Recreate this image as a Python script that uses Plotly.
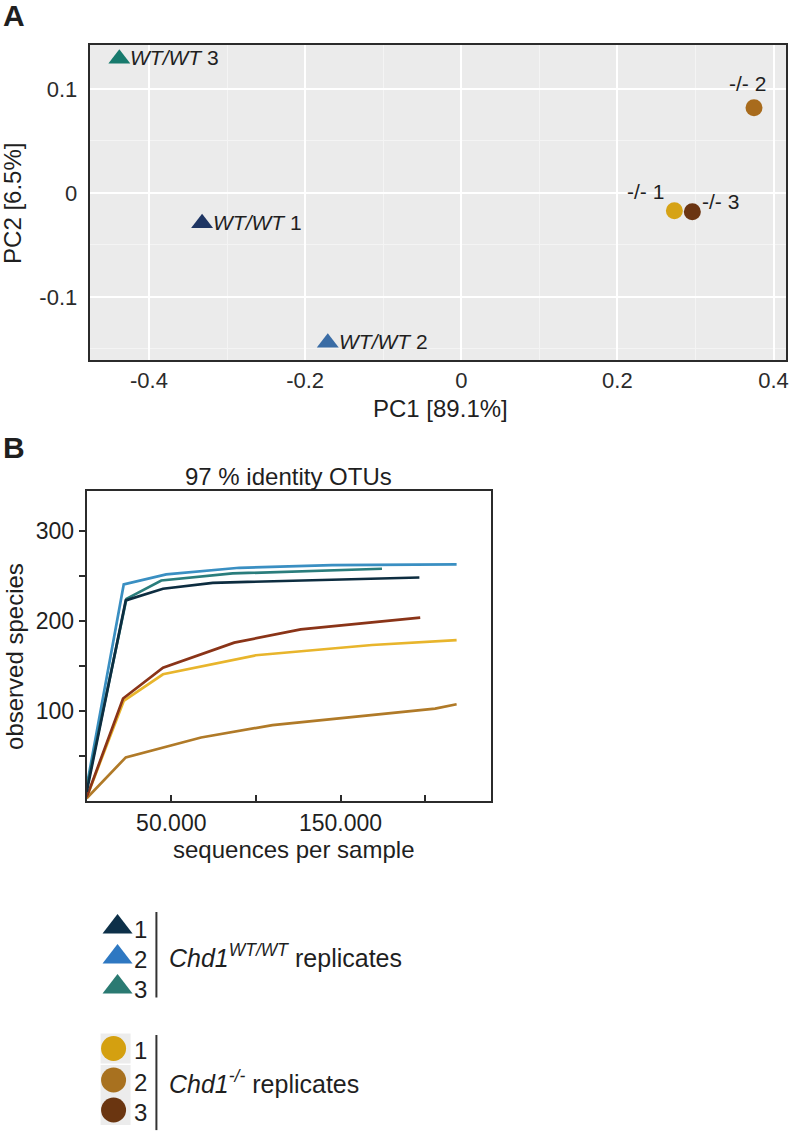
import plotly.graph_objects as go

W, H = 795, 1132
FONT = "Liberation Sans, Arial, sans-serif"
TXT = "#1f1f1f"

# ── Panel A: PCA ──────────────────────────────────────────────────────────────
pca_names = ["<i>WT/WT</i> 1", "<i>WT/WT</i> 2", "<i>WT/WT</i> 3", "-/- 1", "-/- 2", "-/- 3"]
pc1 = [-0.332, -0.171, -0.438, 0.273, 0.375, 0.296]
pc2 = [-0.029, -0.144, 0.129, -0.017, 0.082, -0.018]
pca_colors = ["#1e3563", "#3a6ca5", "#177a6d", "#d6a316", "#a86b1c", "#6b3512"]
pca_symbols = ["triangle-up"] * 3 + ["circle"] * 3
pca_sizes = [19] * 3 + [17] * 3
# label placement (anchor, xshift, yshift) in px
pca_label_pos = [("left", 9, 1), ("left", 9, 1), ("left", 9, 1),
                 ("right", -8, 19), ("center", -7, 24), ("left", 8, 10)]

# ── Panel B: rarefaction ─────────────────────────────────────────────────────
depth_wt1 = [0, 23100, 45100, 74500, 196600]
obs_wt1 = [10, 222.6, 235.5, 242.1, 248.0]
depth_wt2 = [0, 21900, 47000, 90200, 145000, 218600]
obs_wt2 = [16, 240.3, 251.4, 258.8, 261.7, 262.5]
depth_wt3 = [0, 23500, 44100, 86200, 174500]
obs_wt3 = [14, 224.4, 244.7, 252.5, 257.7]
depth_ko1 = [0, 21900, 45100, 100000, 168600, 218600]
obs_ko1 = [4, 111.0, 140.6, 161.7, 173.1, 178.6]
depth_ko2 = [0, 23100, 67600, 109800, 205900, 218600]
obs_ko2 = [3, 48.4, 70.5, 84.2, 102.6, 107.4]
depth_ko3 = [0, 21500, 45100, 87200, 126500, 197100]
obs_ko3 = [4, 113.7, 148.0, 175.7, 190.5, 203.4]

rare_series = [
    (depth_ko2, obs_ko2, "#b07a28"),
    (depth_ko1, obs_ko1, "#e8b52c"),
    (depth_ko3, obs_ko3, "#8a3418"),
    (depth_wt2, obs_wt2, "#3a8fc2"),
    (depth_wt3, obs_wt3, "#2a7d7c"),
    (depth_wt1, obs_wt1, "#0d2d40"),
]
x_tickvals = [50000, 150000]
x_ticktext = ["50.000", "150.000"]
x_minorvals = [100000, 200000]
y_tickvals = [100, 200, 300]
y_ticktext = ["100", "200", "300"]
y_minorvals = [50, 150, 250]

# ── Legend ────────────────────────────────────────────────────────────────────
leg_wt_labels = ["1", "2", "3"]
leg_wt_colors = ["#0d3049", "#2e78c2", "#2a7a72"]
leg_ko_labels = ["1", "2", "3"]
leg_ko_colors = ["#d4a010", "#a8711f", "#6a3510"]
leg_wt_rows = [0, 1, 2]
leg_ko_rows = [4.05, 5.1, 6.1]


def px(x):
    return x / W


def py(y):
    return 1 - y / H


fig = go.Figure()

# panel A markers
fig.add_trace(go.Scatter(
    x=pc1, y=pc2, mode="markers", xaxis="x", yaxis="y",
    marker=dict(color=pca_colors, symbol=pca_symbols, size=pca_sizes,
                opacity=1, line=dict(width=0)),
    showlegend=False, hoverinfo="skip",
))

# panel B lines
for dx, dy, col in rare_series:
    fig.add_trace(go.Scatter(
        x=dx, y=dy, mode="lines", xaxis="x2", yaxis="y2",
        line=dict(color=col, width=2.7), showlegend=False, hoverinfo="skip",
    ))

# legend swatches
leg_x = 116
fig.add_trace(go.Scatter(
    x=[leg_x] * 3, y=leg_ko_rows, mode="markers", xaxis="x3", yaxis="y3",
    marker=dict(symbol="square", size=30, color="#ececec", opacity=1),
    showlegend=False, hoverinfo="skip",
))
fig.add_trace(go.Scatter(
    x=[leg_x + 2] * 3, y=leg_wt_rows, mode="markers", xaxis="x3", yaxis="y3",
    marker=dict(symbol="triangle-up", size=26, color=leg_wt_colors, opacity=1),
    showlegend=False, hoverinfo="skip",
))
fig.add_trace(go.Scatter(
    x=[leg_x - 2] * 3, y=leg_ko_rows, mode="markers", xaxis="x3", yaxis="y3",
    marker=dict(symbol="circle", size=25, color=leg_ko_colors, opacity=1),
    showlegend=False, hoverinfo="skip",
))

ann = []
# PCA point labels
for name, x, y, (anc, xs, ys) in zip(pca_names, pc1, pc2, pca_label_pos):
    ann.append(dict(x=x, y=y, xref="x", yref="y", text=name, showarrow=False,
                    xanchor=anc, yanchor="middle", xshift=xs, yshift=ys,
                    font=dict(size=21, color=TXT)))

# axis titles / panel texts
ann += [
    dict(x=px(14), y=py(16), text="<b>A</b>", font=dict(size=30, color=TXT)),
    dict(x=px(14), y=py(448), text="<b>B</b>", font=dict(size=30, color=TXT)),
    dict(x=px(442), y=py(408), text="PC1 [89.1%]", font=dict(size=24, color=TXT)),
    dict(x=px(13), y=py(203), text="PC2 [6.5%]", textangle=-90, font=dict(size=24, color=TXT)),
    dict(x=px(290), y=py(476), text="97 % identity OTUs", font=dict(size=24, color=TXT)),
    dict(x=px(14), y=py(656), text="observed species", textangle=-90, font=dict(size=24, color=TXT)),
    dict(x=px(295), y=py(849), text="sequences per sample", font=dict(size=24, color=TXT)),
]
for a in ann[len(pca_names):]:
    a.update(xref="paper", yref="paper", showarrow=False, xanchor="center", yanchor="middle")

# legend numbers and group texts
for lab, r in zip(leg_wt_labels + leg_ko_labels, leg_wt_rows + leg_ko_rows):
    ann.append(dict(x=141, y=r + 0.08, xref="x3", yref="y3", text=lab, showarrow=False,
                    xanchor="center", yanchor="middle", font=dict(size=24, color=TXT)))
ann.append(dict(x=168, y=0.95, xref="x3", yref="y3", showarrow=False, xanchor="left",
                yanchor="middle", text="<i>Chd1</i><sup><i>WT/WT</i></sup> replicates",
                font=dict(size=25, color=TXT)))
ann.append(dict(x=168, y=5.15, xref="x3", yref="y3", showarrow=False, xanchor="left",
                yanchor="middle", text="<i>Chd1</i><sup><i>-/-</i></sup> replicates",
                font=dict(size=25, color=TXT)))

shapes = [
    # grey panel background for A
    dict(type="rect", xref="x domain", yref="y domain", x0=0, x1=1, y0=0, y1=1,
         fillcolor="#ebebeb", line=dict(width=0), layer="below"),
    # legend brackets
    dict(type="line", xref="x3", yref="y3", x0=157, x1=157, y0=-0.5, y1=2.35,
         line=dict(color="#333333", width=2)),
    dict(type="line", xref="x3", yref="y3", x0=157, x1=157, y0=3.6, y1=6.77,
         line=dict(color="#333333", width=2)),
]

fig.update_layout(
    width=W, height=H,
    margin=dict(l=0, r=0, t=0, b=0),
    paper_bgcolor="white", plot_bgcolor="white",
    font=dict(family=FONT, color=TXT, size=22),
    showlegend=False,
    annotations=ann, shapes=shapes,
    xaxis=dict(
        domain=[px(90), px(789)], range=[-0.476, 0.416],
        tickvals=[-0.4, -0.2, 0, 0.2, 0.4], ticktext=["-0.4", "-0.2", "0", "0.2", "0.4"],
        ticks="", showgrid=True, gridcolor="white", gridwidth=2, zeroline=False,
        minor=dict(tickvals=[-0.3, -0.1, 0.1, 0.3], showgrid=True,
                   gridcolor="#f4f4f4", gridwidth=1),
        showline=True, linecolor="#2b2b2b", linewidth=2, mirror=True,
        tickfont=dict(size=22, color="#2b2b2b"), anchor="y",
        ticklabeloverflow="allow", ticklabelstandoff=0,
    ),
    yaxis=dict(
        domain=[py(360), py(45)], range=[-0.1606, 0.1423],
        tickvals=[-0.1, 0, 0.1], ticktext=["-0.1", "0", "0.1"],
        ticks="", showgrid=True, gridcolor="white", gridwidth=2, zeroline=False,
        minor=dict(tickvals=[-0.15, -0.05, 0.05], showgrid=True,
                   gridcolor="#f4f4f4", gridwidth=1),
        showline=True, linecolor="#2b2b2b", linewidth=2, mirror=True,
        tickfont=dict(size=22, color="#2b2b2b"), anchor="x", ticklabelstandoff=6,
    ),
    xaxis2=dict(
        domain=[px(87), px(493)], range=[0, 239000],
        tickvals=x_tickvals, ticktext=x_ticktext,
        ticks="inside", ticklen=6, tickwidth=2, tickcolor="#2b2b2b",
        minor=dict(tickvals=x_minorvals, ticks="inside", ticklen=6, tickwidth=2,
                   tickcolor="#2b2b2b", showgrid=False),
        showgrid=False, zeroline=False,
        showline=True, linecolor="#2b2b2b", linewidth=2, mirror=True,
        tickfont=dict(size=23, color=TXT), anchor="y2",
    ),
    yaxis2=dict(
        domain=[py(801), py(491)], range=[0, 344],
        tickvals=y_tickvals, ticktext=y_ticktext,
        ticks="outside", ticklen=6, tickwidth=2, tickcolor="#2b2b2b",
        minor=dict(tickvals=y_minorvals, ticks="outside", ticklen=6, tickwidth=2,
                   tickcolor="#2b2b2b", showgrid=False),
        showgrid=False, zeroline=False,
        showline=True, linecolor="#2b2b2b", linewidth=2, mirror=True,
        tickfont=dict(size=23, color=TXT), anchor="x2", ticklabelstandoff=0,
    ),
    xaxis3=dict(domain=[0, 1], range=[0, W], visible=False, anchor="y3"),
    yaxis3=dict(domain=[0, py(897)], range=[6.833, -1], visible=False, anchor="x3"),
)

# the page's default body margin would push the figure 8px right/down
fig.write_html("out.html", config={"displayModeBar": False},
               post_script="document.body.style.margin='0px';")
